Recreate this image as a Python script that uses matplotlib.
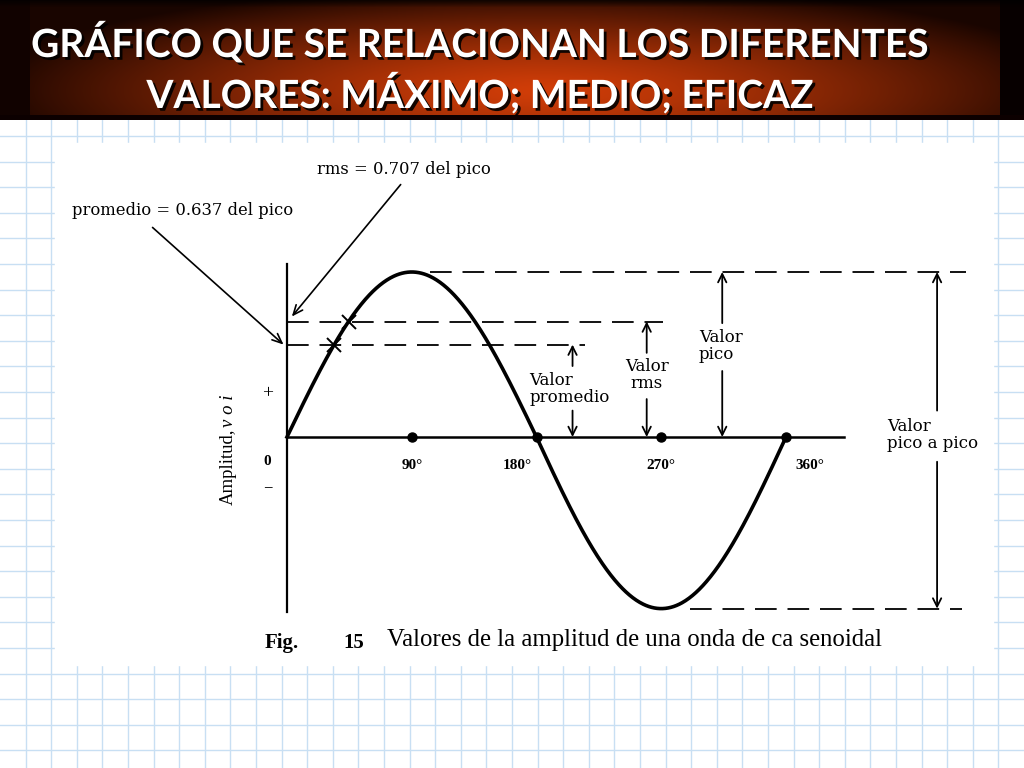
import matplotlib
matplotlib.use("Agg")
import matplotlib.pyplot as plt
import matplotlib.patheffects as pe
import numpy as np

# values (amplitude relative to the peak)
angles_deg = [90, 180, 270, 360]
angle_labels = ["90°", "180°", "270°", "360°"]
peak_level = 1.0
trough_level = -1.04
rms_level = 0.70      # drawn level of the rms line
avg_level = 0.56      # drawn level of the "promedio" line

title_lines = ["GRÁFICO QUE SE RELACIONAN LOS DIFERENTES",
               "VALORES: MÁXIMO; MEDIO; EFICAZ"]

# pixel geometry of the figure: origin of the wave and scales
X0, Y0 = 287, 437
PX_PER_DEG = 499 / 360
PX_PER_AMP = 165

W, H = 1024, 768
fig = plt.figure(figsize=(W / 100, H / 100), dpi=100)

# ---- background (pixel coordinates) ----
bg = fig.add_axes([0, 0, 1, 1])
bg.set_xlim(0, W)
bg.set_ylim(H, 0)
bg.axis("off")

grid_c = "#c8dff3"
for gx in np.arange(25.6, W, 25.6):
    bg.plot([gx, gx], [120, H], color=grid_c, lw=1.0, zorder=1)
for gy in np.arange(136 - 25.6, H, 25.6):
    if gy > 120:
        bg.plot([0, W], [gy, gy], color=grid_c, lw=1.0, zorder=1)
bg.add_patch(plt.Rectangle((55, 143), 938, 522, color="white", zorder=2))

# banner with radial gradient
yy, xx = np.mgrid[0:120, 0:W]
r = np.sqrt(((xx - 540) / 560) ** 2 + ((yy - 90) / 105) ** 2)
t = np.clip(r, 0, 1) ** 1.3
c0 = np.array([0.82, 0.24, 0.03])
c1 = np.array([0.10, 0.02, 0.0])
img = c0 * (1 - t[..., None]) + c1 * t[..., None]
img[:, :30] = [0.07, 0.01, 0.0]
img[:, 1000:] = [0.03, 0.0, 0.0]
img[:8, :] *= np.linspace(0.3, 1, 8)[:, None, None]
img[115:, :] = [0.05, 0.0, 0.0]
bg.imshow(img, extent=(0, W, 120, 0), aspect="auto", zorder=3)

shadow = [pe.SimplePatchShadow(offset=(2, -2), shadow_rgbFace="black", alpha=0.9), pe.Normal()]
for ty, line in zip([57, 108], title_lines):
    bg.text(480, ty, line, ha="center", va="baseline", color="white",
            fontsize=28, fontweight="bold", family="Lato", zorder=5,
            path_effects=shadow)

# caption
serif = "Liberation Serif"
bg.text(265, 648, "Fig.", fontsize=15, fontweight="bold", family=serif, va="baseline", zorder=5)
bg.text(343, 648, "15", fontsize=15, fontweight="bold", family=serif, va="baseline", zorder=5)
bg.text(387, 646, "Valores de la amplitud de una onda de ca senoidal", fontsize=17.8,
        family=serif, va="baseline", zorder=5)

# ---- chart (degrees / amplitude) ----
ax = fig.add_axes([0, 0, 1, 1])
ax.set_xlim(-X0 / PX_PER_DEG, (W - X0) / PX_PER_DEG)
ax.set_ylim((Y0 - H) / PX_PER_AMP, Y0 / PX_PER_AMP)
ax.axis("off")
ax.patch.set_alpha(0)

deg = np.linspace(0, 360, 721)
s = np.sin(np.radians(deg))
wave = np.where(s >= 0, peak_level * s, -trough_level * s)
ax.plot(deg, wave, color="black", lw=2.6, zorder=4)

# axes of the figure
ax.plot([0, 0], [-1.06, 1.05], color="black", lw=1.6)
ax.plot([0, 402], [0, 0], color="black", lw=1.8)
ax.plot(angles_deg, [0] * len(angles_deg), "o", color="black", ms=6.5, zorder=5)
for a, lab in zip(angles_deg, angle_labels):
    ax.text(a + (-14 if a == 180 else 0 if a < 360 else 17), -0.17, lab, ha="center",
            va="center", fontsize=11, fontweight="bold", family=serif)

# dashed reference levels
dash = dict(color="black", lw=1.3, linestyle=(0, (12, 6)))
ax.plot([103, 490], [peak_level] * 2, **dash)
ax.plot([291, 487], [trough_level] * 2, **dash)
ax.plot([0, 271], [rms_level] * 2, **dash)
ax.plot([0, 215], [avg_level] * 2, **dash)

# crossings of the wave with rms / average lines
for lv in (rms_level, avg_level):
    ax.plot(np.degrees(np.arcsin(lv)), lv, marker="x", ms=10, mew=1.4, color="black", zorder=6)

# y side labels
ax.text(-14, 0.26, "+", ha="center", va="center", fontsize=14, family=serif)
ax.text(-14, -0.15, "0", ha="center", va="center", fontsize=11, fontweight="bold", family=serif)
ax.text(-14, -0.31, "−", ha="center", va="center", fontsize=12, family=serif)
ax.text(-42, -0.41, "Amplitud,", rotation=90, ha="center", va="bottom", fontsize=13.5, family=serif)
ax.text(-42, 0.06, "v o i", rotation=90, ha="center", va="bottom", fontsize=13.5,
        style="italic", family=serif)

# vertical arrows with labels between
ap = dict(arrowstyle="->,head_length=0.6,head_width=0.3", lw=1.3, color="black",
          shrinkA=0, shrinkB=0)
lab_font = dict(fontsize=12, family="DejaVu Serif", linespacing=1.0)


def double_arrow(a, top, bottom, top_tail, bottom_tail):
    ax.annotate("", xy=(a, top), xytext=(a, top_tail), arrowprops=ap)
    ax.annotate("", xy=(a, bottom), xytext=(a, bottom_tail), arrowprops=ap)


double_arrow(206, avg_level, 0, 0.43, 0.16)
ax.text(175, 0.29, "Valor\npromedio", ha="left", va="center", **lab_font)

double_arrow(259.5, rms_level, 0, 0.51, 0.23)
ax.text(259.5, 0.375, "Valor\nrms", ha="center", va="center", multialignment="center", **lab_font)

double_arrow(314, peak_level, 0, 0.69, 0.40)
ax.text(297, 0.55, "Valor\npico", ha="left", va="center", **lab_font)

double_arrow(469, peak_level, trough_level, 0.16, -0.15)
ax.text(433, 0.01, "Valor\npico a pico", ha="left", va="center", **lab_font)

# leader arrows to the axis
lead = dict(arrowstyle="->,head_length=0.7,head_width=0.3", lw=1.2, color="black",
            shrinkA=0, shrinkB=0)
ax.annotate("", xy=(3.5, rms_level + 0.03), xytext=(82, 1.53), arrowprops=lead)
ax.annotate("rms = 0.707 del pico", xy=(0, 0), xytext=(22, 1.62), fontsize=11.8,
            family="DejaVu Serif", ha="left", va="center")
ax.annotate("", xy=(-2.5, avg_level), xytext=(-97, 1.27), arrowprops=lead)
ax.annotate("promedio = 0.637 del pico", xy=(0, 0), xytext=(-155, 1.37), fontsize=11.8,
            family="DejaVu Serif", ha="left", va="center")

fig.savefig("out.png", dpi=100)
